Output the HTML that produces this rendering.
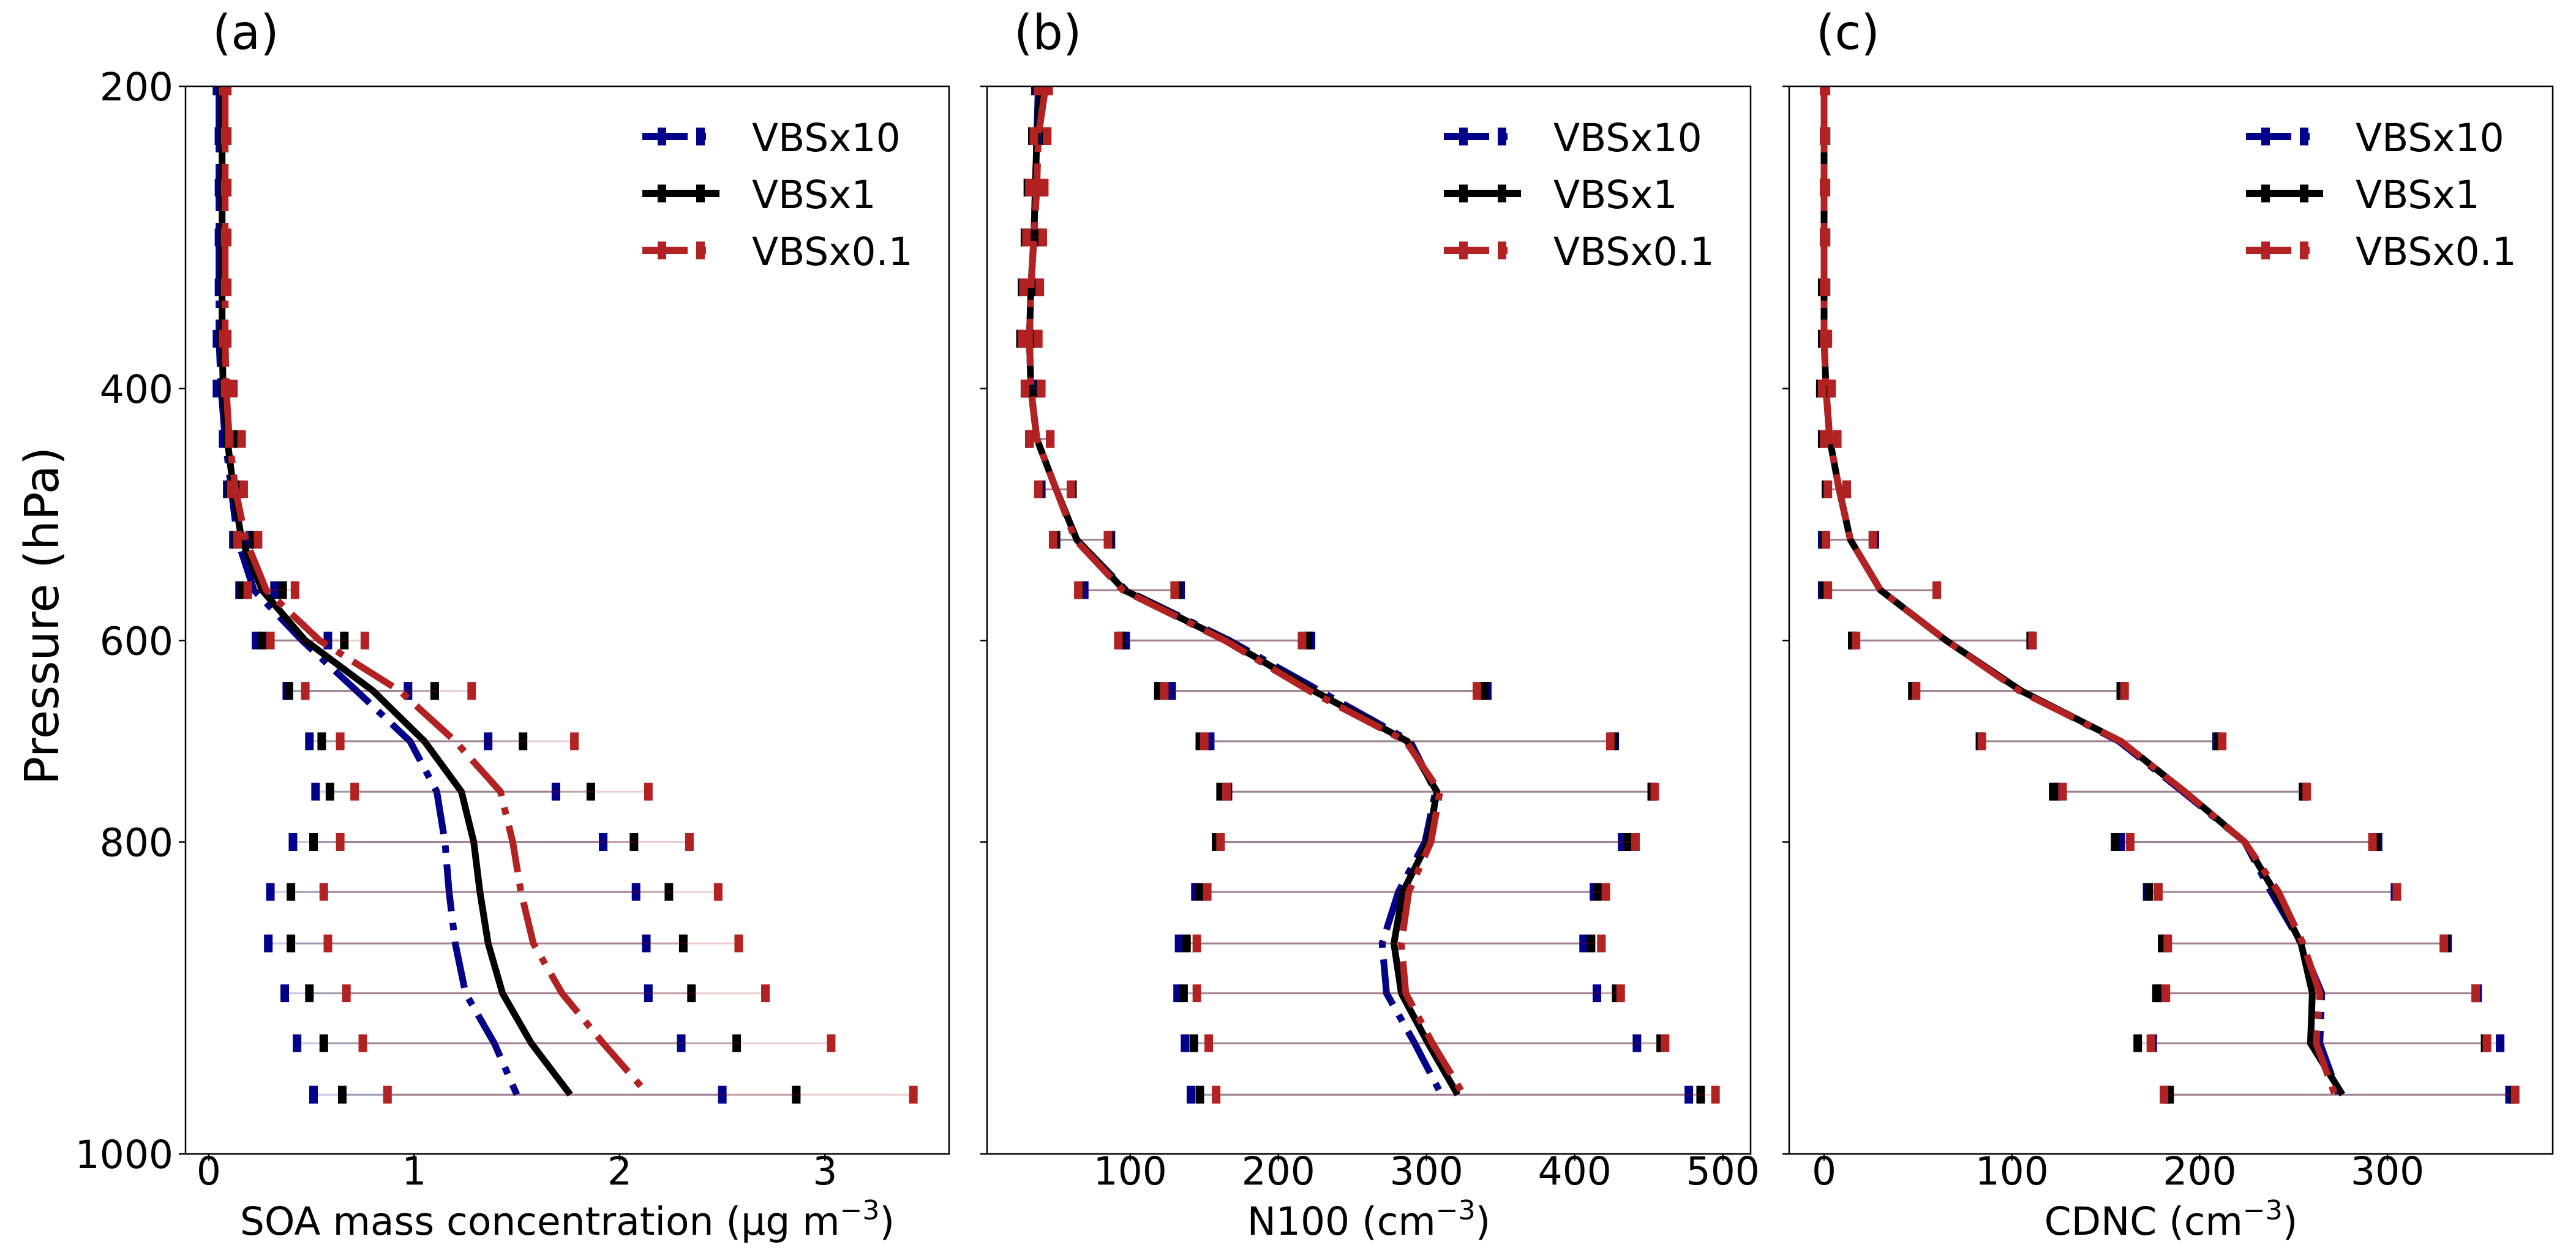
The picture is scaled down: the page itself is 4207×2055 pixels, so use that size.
<!DOCTYPE html>
<html><head><meta charset="utf-8"><style>
html,body{margin:0;padding:0;background:#fff;}
svg{display:block;font-family:"DejaVu Sans","Liberation Sans",sans-serif;}
</style></head><body>
<svg id="fig" width="4207" height="2055" viewBox="0 0 4207 2055" xmlns="http://www.w3.org/2000/svg"></svg>
<script>
// pressure levels (hPa)
const levels = [200,233,267,300,333,367,400,440,480,520,560,600,650,700,750,800,832,865,897,929,962];
const yTicks = [200,400,600,800,1000];
// Panel (a) SOA
const soaMean10 = [.05,.05,.05,.05,.05,.05,.06,.08,.11,.14,.22,.455,.72,.98,1.11,1.15,1.17,1.20,1.25,1.39,1.50];
const soaMean1  = [.065,.065,.065,.065,.065,.065,.07,.09,.12,.16,.26,.47,.80,1.05,1.23,1.29,1.32,1.36,1.43,1.57,1.76];
const soaMean01 = [.08,.08,.08,.08,.08,.08,.085,.10,.13,.18,.28,.54,.93,1.20,1.42,1.48,1.52,1.58,1.72,1.92,2.14];
const soaLo10 = [.04,.05,.05,.05,.05,.04,.04,.07,.09,.12,.15,.23,.38,.49,.52,.41,.30,.29,.37,.43,.51];
const soaLo1  = [.06,.07,.07,.07,.07,.06,.07,.09,.10,.13,.16,.26,.39,.55,.59,.51,.40,.40,.49,.56,.65];
const soaLo01 = [.07,.08,.08,.08,.08,.07,.08,.10,.11,.14,.19,.30,.47,.64,.71,.64,.56,.58,.67,.75,.87];
const soaHi10 = [.06,.05,.06,.06,.06,.07,.08,.10,.13,.20,.32,.58,.97,1.36,1.69,1.92,2.08,2.13,2.14,2.30,2.50];
const soaHi1  = [.07,.07,.07,.07,.07,.07,.09,.12,.15,.22,.36,.66,1.10,1.53,1.86,2.07,2.24,2.31,2.35,2.57,2.86];
const soaHi01 = [.09,.09,.09,.09,.09,.09,.12,.16,.17,.24,.42,.76,1.28,1.78,2.14,2.34,2.48,2.58,2.71,3.03,3.43];
const soaTicks = [0,1,2,3];
// Panel (b) N100
const nMean10 = [38,37,36,35,33,32,33,37,50,64,97,167,228,289,306,299,281,270,273,292,310];
const nMean1  = [40,37,36,35,33,32,33,37,50,64,96,165,224,287,307,301,284,278,283,301,321];
const nMean01 = [43,38,37,35,33,32,33,37,50,63,95,164,221,286,309,303,288,283,286,304,325];
const nLo10 = [36,34,31,29,28,26,29,32,40,50,69,97,128,154,166,160,144,133,132,137,141];
const nLo1  = [37,34,31,29,27,26,29,32,39,49,66,94,119,147,161,158,147,138,136,143,147];
const nLo01 = [38,35,32,30,28,27,29,32,38,48,65,92,123,150,165,161,152,145,145,153,158];
const nHi10 = [40,42,40,39,38,37,38,46,61,87,134,222,341,427,452,432,413,406,415,442,477];
const nHi1  = [42,43,41,40,38,37,39,46,61,86,132,220,339,426,452,436,416,411,428,458,485];
const nHi01 = [45,44,42,41,39,38,40,46,60,85,130,216,334,424,454,441,421,418,431,461,495];
const nTicks = [100,200,300,400,500];
// Panel (c) CDNC
const cMean10 = [0,0,0,0,0,0,1,3,8,14,30,65,105,157,191,224,238,254,265,264,274];
const cMean1  = [0,0,0,0,0,0,1,3,8,14,30,65,105,158,192,224,240,254,260,259,276];
const cMean01 = [0,0,0,0,0,0,1,3,8,14,30,65,104,158,192,224,242,255,264,262,272];
const cLo10 = [0,0,0,0,-1,-1,-2,-1,1,-1,-1,15,48,83,124,158,172,182,179,175,182];
const cLo1  = [0,0,0,0,-1,-1,-2,-1,1,0,0,15,47,83,122,155,173,180,177,167,184];
const cLo01 = [0,0,0,0,0,0,-1,0,2,1,2,17,49,84,127,163,178,183,182,174,181];
const cHi10 = [0,1,0,1,1,1,3,7,12,27,60,111,158,209,256,295,304,332,348,360,365];
const cHi1  = [0,1,0,1,1,1,3,7,12,26,60,110,158,210,255,294,305,331,347,352,367];
const cHi01 = [1,1,1,1,1,2,4,7,12,26,60,111,160,212,257,292,305,330,347,353,368];
const cTicks = [0,100,200,300];
const seriesNames = ['VBSx10','VBSx1','VBSx0.1'];

const NS='http://www.w3.org/2000/svg';
const svg=document.getElementById('fig');
function mk(tag,attrs,parent){const e=document.createElementNS(NS,tag);for(const k in attrs)e.setAttribute(k,attrs[k]);(parent||svg).appendChild(e);return e;}

const TOP=141,BOT=1885,STEP=82.3;
const tickIdx=[0,6,11,15,(BOT-TOP)/STEP];
function yScale(p){
  for(let k=0;k<yTicks.length-1;k++){
    if(p<=yTicks[k+1]||k===yTicks.length-2){
      const f=(p-yTicks[k])/(yTicks[k+1]-yTicks[k]);
      const idx=tickIdx[k]+f*(tickIdx[k+1]-tickIdx[k]);
      return TOP+idx*STEP;
    }
  }
}
const colors=['#00008b','#000000','#b22222'];
const dash=['77 19 12 19','none','77 19 12 19'];

const panels=[
 {id:'a',left:303,xmin:-0.113,xmax:3.604,ticks:soaTicks,label:'SOA mass concentration (μg m',mean:[soaMean10,soaMean1,soaMean01],lo:[soaLo10,soaLo1,soaLo01],hi:[soaHi10,soaHi1,soaHi01],ylab:true},
 {id:'b',left:1612,xmin:3.4,xmax:518.7,ticks:nTicks,label:'N100 (cm',mean:[nMean10,nMean1,nMean01],lo:[nLo10,nLo1,nLo01],hi:[nHi10,nHi1,nHi01],ylab:false},
 {id:'c',left:2922,xmin:-18.6,xmax:388,ticks:cTicks,label:'CDNC (cm',mean:[cMean10,cMean1,cMean01],lo:[cLo10,cLo1,cLo01],hi:[cHi10,cHi1,cHi01],ylab:false}
];
const W=1247;

panels.forEach(P=>{
  const g=mk('g',{});
  
  
  const xs=v=>P.left+(v-P.xmin)/(P.xmax-P.xmin)*W;
  const clipId='clip'+P.id;
  const cp=mk('clipPath',{id:clipId},g);
  mk('rect',{x:P.left,y:TOP,width:W,height:BOT-TOP},cp);
  const plot=mk('g',{'clip-path':'url(#'+clipId+')'},g);
  for(let s=0;s<3;s++){
    const sg=mk('g',{},plot);
    
    
    levels.forEach((p,i)=>{
      const y=yScale(p);
      const eb=mk('line',{x1:xs(P.lo[s][i]),x2:xs(P.hi[s][i]),y1:y,y2:y,stroke:colors[s],'stroke-width':3,'stroke-opacity':0.22},sg);
      
      
    });
    const pts=levels.map((p,i)=>xs(P.mean[s][i]).toFixed(1)+','+yScale(p).toFixed(1)).join(' ');
    const ln=mk('polyline',{points:pts,fill:'none',stroke:colors[s],'stroke-width':11,'stroke-dasharray':dash[s],'stroke-linejoin':'miter'},sg);
    
    
    levels.forEach((p,i)=>{
      const y=yScale(p);
      [P.lo[s][i],P.hi[s][i]].forEach(v=>{
        const c=mk('rect',{x:xs(v)-7,y:y-14.5,width:14,height:29,fill:colors[s]},sg);
        
        
      });
    });
  }
  const fr=mk('rect',{x:P.left,y:TOP,width:W,height:BOT-TOP,fill:'none',stroke:'#000','stroke-width':2.5},g);
  
  
  P.ticks.forEach(t=>{
    const x=xs(t);
    const tk=mk('line',{x1:x,x2:x,y1:BOT,y2:BOT+11,stroke:'#000','stroke-width':2.5},g);
    
    
    const tl=mk('text',{x:x,y:1935,'font-size':63,'text-anchor':'middle'},g);
    tl.textContent=String(t);
    
    
  });
  yTicks.forEach(t=>{
    const y=yScale(t);
    const tk=mk('line',{x1:P.left-11,x2:P.left,y1:y,y2:y,stroke:'#000','stroke-width':2.5},g);
    
    
    if(P.ylab){
      const tl=mk('text',{x:283,y:y+23,'font-size':63,'text-anchor':'end'},g);
      tl.textContent=String(t);
      
      
    }
  });
  const xl=mk('text',{x:P.left+W/2,y:2017,'font-size':63,'text-anchor':'middle'},g);
  
  
  xl.appendChild(document.createTextNode(P.label));
  const sup=mk('tspan',{'baseline-shift':'super','font-size':44},xl);
  sup.textContent='−3';
  const cl=mk('tspan',{},xl);
  cl.textContent=')';
  const pl=mk('text',{x:P.left+44,y:80,'font-size':78},g);
  pl.textContent='('+P.id+')';
  
  
  const R=P.left+W;
  const lg=mk('g',{},g);
  
  
  for(let s=0;s<3;s++){
    const y=223+s*93;
    const e=mk('g',{},lg);
    
    
    mk('line',{x1:R-501,x2:R-375,y1:y,y2:y,stroke:colors[s],'stroke-width':12,'stroke-dasharray':s===1?'none':'74 18 12 22'},e);
    [R-469,R-406].forEach(x=>mk('rect',{x:x-7,y:y-14.5,width:14,height:29,fill:colors[s]},e));
    const t=mk('text',{x:R-322,y:y+24,'font-size':63},e);
    t.textContent=seriesNames[s];
  }
});
const yt=mk('text',{x:0,y:0,'font-size':77,'text-anchor':'middle',transform:'translate(95,1006) rotate(-90)'});
yt.textContent='Pressure (hPa)';


</script>
</body></html>
